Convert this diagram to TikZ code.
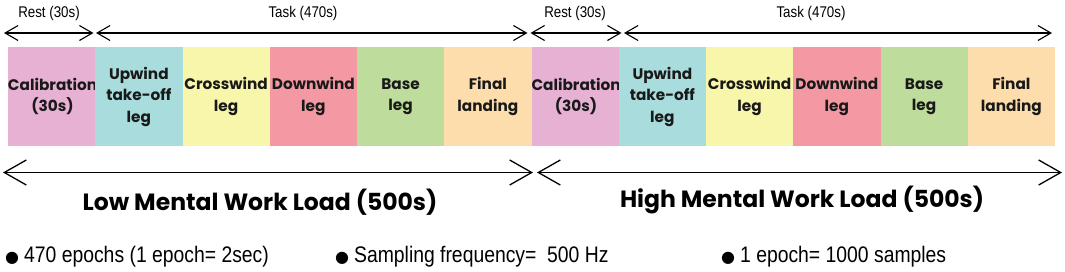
\documentclass[tikz,border=0pt]{standalone}
\usepackage{fontspec}
\setmainfont{Poppins}
\newfontfamily\condf[FakeStretch=0.86]{Liberation Sans}
\newfontfamily\dejav{DejaVu Sans}
\usetikzlibrary{arrows.meta}
\definecolor{cpink}{HTML}{E6B1D3}
\definecolor{cteal}{HTML}{A9DCDC}
\definecolor{cyell}{HTML}{F8F6AA}
\definecolor{cred}{HTML}{F499A4}
\definecolor{cgreen}{HTML}{BEDC9B}
\definecolor{corange}{HTML}{FDDDAB}
\newcommand{\bul}{{\dejav\fontsize{16}{16}\selectfont ●}\hspace{5pt}}
\tikzset{
  seg/.style={minimum width=87.25pt, minimum height=99pt, inner sep=0pt, outer sep=0pt,
    align=center, font=\fontsize{15.3}{21.5}\selectfont\bfseries, text=black!90},
  toparr/.style={line width=1.1pt, {Straight Barb[length=13pt,width=15pt,line width=1.1pt]}-{Straight Barb[length=13pt,width=15pt,line width=1.1pt]}},
  botarr/.style={line width=1.3pt, {Straight Barb[length=22pt,width=25pt,line width=1.3pt]}-{Straight Barb[length=22pt,width=25pt,line width=1.3pt]}},
  toplbl/.style={font=\condf\fontsize{15.5}{17}\selectfont, anchor=base},
  biglbl/.style={font=\fontsize{23.5}{26}\selectfont\bfseries, anchor=base},
  bullet/.style={font=\condf\fontsize{22.5}{24}\selectfont, anchor=base west, inner sep=0pt}
}
\begin{document}
\begin{tikzpicture}[x=1pt,y=-1pt]
\useasboundingbox (0,0) rectangle (1065,271);
% segments
\foreach \i/\c/\t [count=\k from 0] in {
  cpink/{Calibration\\(30s)}/a, cteal/{Upwind\\take-off\\leg}/b, cyell/{Crosswind\\leg}/c,
  cred/{Downwind\\leg}/d, cgreen/{Base\\leg}/e, corange/{Final\\landing}/f,
  cpink/{Calibration\\(30s)}/g, cteal/{Upwind\\take-off\\leg}/h, cyell/{Crosswind\\leg}/i,
  cred/{Downwind\\leg}/j, cgreen/{Base\\leg}/k, corange/{Final\\landing}/l}
  { \node[seg, fill=\i, anchor=north west] (\t) at ({8+87.25*\k},47) {\c}; }
% top arrows
\coordinate (r1a) at (4,33); \coordinate (r1b) at (93.5,33);
\coordinate (t1a) at (96,33); \coordinate (t1b) at (527.5,33);
\coordinate (r2a) at (530.5,33); \coordinate (r2b) at (621.5,33);
\coordinate (t2a) at (624,33); \coordinate (t2b) at (1052,33);
\draw[toparr] (r1a) -- (r1b);
\draw[toparr] (t1a) -- (t1b);
\draw[toparr] (r2a) -- (r2b);
\draw[toparr] (t2a) -- (t2b);
\node[toplbl] (lr1) at (49,17) {Rest (30s)};
\node[toplbl] (lt1) at (303,17) {Task (470s)};
\node[toplbl] (lr2) at (575,17) {Rest (30s)};
\node[toplbl] (lt2) at (811,17) {Task (470s)};
% bottom arrows
\coordinate (l1a) at (3,172.5); \coordinate (l1b) at (533,172.5);
\coordinate (l2a) at (537,172.5); \coordinate (l2b) at (1062,172.5);
\draw[botarr] (l1a) -- (l1b);
\draw[botarr] (l2a) -- (l2b);
\node[biglbl] (low) at (260,210) {Low Mental Work Load (500s)};
\node[biglbl] (high) at (802,207) {High Mental Work Load (500s)};
% bullets
\node[bullet] (b1) at (5,262) {\bul 470 epochs (1 epoch= 2sec)};
\node[bullet] (b2) at (335,262) {\bul Sampling frequency=\ \ 500 Hz};
\node[bullet] (b3) at (721,262) {\bul 1 epoch= 1000 samples};
\end{tikzpicture}
\end{document}
